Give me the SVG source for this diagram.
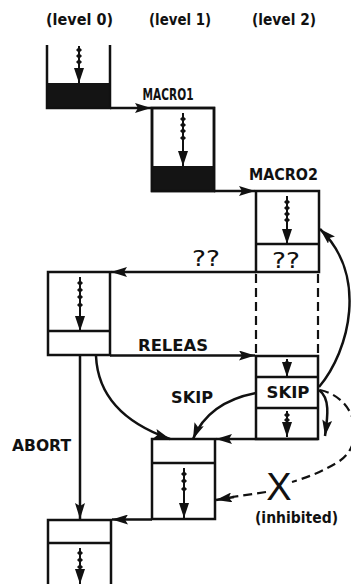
<svg xmlns="http://www.w3.org/2000/svg" width="351" height="584" viewBox="0 0 351 584">
<style>
.bx{fill:#fff;stroke:#111;stroke-width:2.5}
.ln{fill:none;stroke:#111;stroke-width:2.5}
.con{fill:none;stroke:#111;stroke-width:2.5;marker-end:url(#ah)}
.dash{fill:none;stroke:#111;stroke-width:2.2;stroke-dasharray:9 5}
.dn{fill:none;stroke:#111;stroke-width:2;marker-mid:url(#bead);marker-end:url(#dh)}
.fillb{fill:#141414}
text{font-family:"DejaVu Sans","Liberation Sans",Arial,sans-serif;font-weight:bold;font-size:15px;fill:#111}
.big{font-size:21px;font-weight:normal}
.x{font-family:"Liberation Sans",Arial,sans-serif;font-size:38px;font-weight:normal}
</style>
<defs>
<marker id="ah" markerUnits="userSpaceOnUse" markerWidth="16" markerHeight="10" viewBox="0 0 16 10" refX="16" refY="5" orient="auto"><path d="M0,0 L16,5 L0,10 L3,5 Z" fill="#111"/></marker>
<marker id="dh" markerUnits="userSpaceOnUse" markerWidth="15" markerHeight="10" viewBox="0 0 15 10" refX="15" refY="5" orient="auto"><path d="M0,0 L15,5 L0,10 Z" fill="#111"/></marker>
<marker id="bead" markerUnits="userSpaceOnUse" markerWidth="6" markerHeight="6" viewBox="-3 -3 6 6" refX="0" refY="0"><path d="M0,-3 L3,0 L0,3 L-3,0 Z" fill="#111"/></marker>
</defs>

<g id="headers">
<text x="79.5" y="25" text-anchor="middle" textLength="67" lengthAdjust="spacingAndGlyphs">(level 0)</text>
<text x="180" y="25" text-anchor="middle" textLength="62" lengthAdjust="spacingAndGlyphs">(level 1)</text>
<text x="284" y="25" text-anchor="middle" textLength="64" lengthAdjust="spacingAndGlyphs">(level 2)</text>
</g>

<g id="box0">
<rect class="fillb" x="47" y="83" width="63" height="25"/>
<path class="ln" d="M47,45 V108 H110 V45"/>
<polyline class="dn" points="79,46 79,50 79,56 79,62 79,83"/>
</g>

<g id="box1">
<rect class="bx" x="152" y="108" width="62" height="83"/>
<rect class="fillb" x="152" y="166" width="62" height="25"/>
<rect class="ln" x="152" y="108" width="62" height="83"/>
<polyline class="dn" points="183,113 183,119 183,125 183,131 183,138 183,166"/>
</g>

<g id="box2">
<rect class="bx" x="256" y="191" width="63" height="81"/>
<line class="ln" x1="256" y1="244" x2="319" y2="244"/>
<polyline class="dn" points="287,196 287,202 287,208 287,214 287,220 287,244"/>
<text class="big" x="286" y="268" text-anchor="middle" textLength="28" lengthAdjust="spacingAndGlyphs">??</text>
</g>

<g id="box3">
<rect class="bx" x="48" y="272" width="62" height="83"/>
<line class="ln" x1="48" y1="331" x2="110" y2="331"/>
<polyline class="dn" points="80,277 80,283 80,290 80,297 80,305 80,331"/>
</g>

<g id="box4">
<rect class="bx" x="256" y="356" width="62" height="83"/>
<line class="ln" x1="256" y1="377" x2="318" y2="377"/>
<line class="ln" x1="256" y1="408" x2="318" y2="408"/>
<polyline class="dn" points="287,359 287,363 287,377"/>
<polyline class="dn" points="287,411 287,415 287,420 287,424 287,437"/>
<text x="288" y="398" text-anchor="middle" textLength="43" lengthAdjust="spacingAndGlyphs">SKIP</text>
</g>

<g id="box5">
<rect class="bx" x="152" y="439" width="63" height="80"/>
<line class="ln" x1="152" y1="463" x2="215" y2="463"/>
<polyline class="dn" points="184,468 184,474 184,481 184,489 184,518"/>
</g>

<g id="box6">
<path class="ln" d="M48,584 V520 H111 V584"/>
<line class="ln" x1="48" y1="543" x2="111" y2="543"/>
<polyline class="dn" points="80,548 80,553 80,560 80,567 80,584"/>
</g>

<g id="connectors">
<path class="con" d="M110,108 H151"/>
<text x="168" y="100" text-anchor="middle" textLength="51" lengthAdjust="spacingAndGlyphs">MACRO1</text>
<path class="con" d="M214,191 H255"/>
<text x="283.5" y="180" text-anchor="middle" textLength="69" lengthAdjust="spacingAndGlyphs">MACRO2</text>
<path class="con" d="M256,272 H111"/>
<text class="big" x="206" y="266" text-anchor="middle" textLength="28" lengthAdjust="spacingAndGlyphs">??</text>
<path class="dash" d="M256,274 V355"/>
<path class="dash" d="M318,274 V355"/>
<path class="con" d="M110,355.5 H255"/>
<text x="173" y="351" text-anchor="middle" textLength="70" lengthAdjust="spacingAndGlyphs">RELEAS</text>
<path class="con" d="M80,356 V519"/>
<text x="41.5" y="451" text-anchor="middle" textLength="59" lengthAdjust="spacingAndGlyphs">ABORT</text>
<path class="con" d="M96,356 C98,400 130,425 170,439"/>
<path class="con" d="M256,393 C230,398 205,410 193,439"/>
<text x="192" y="403" text-anchor="middle" textLength="42" lengthAdjust="spacingAndGlyphs">SKIP</text>
<path class="con" d="M319,387 C350,350 368,275 320,229"/>
<path class="con" d="M319,390 C330,398 328,415 325,436"/>
<path class="con" d="M318,439 H216"/>
<path class="con" d="M152,519.5 H112"/>
<path class="dash" d="M320,390 C358,398 366,445 338,462 C320,473 305,478 292,482"/>
<path class="dash" d="M266,492 L232,497"/>
<path class="con" d="M234,497 L216,500"/>
<text class="x" x="279" y="500" text-anchor="middle">X</text>
<text x="296.5" y="523" text-anchor="middle" textLength="83" lengthAdjust="spacingAndGlyphs">(inhibited)</text>
</g>
</svg>
